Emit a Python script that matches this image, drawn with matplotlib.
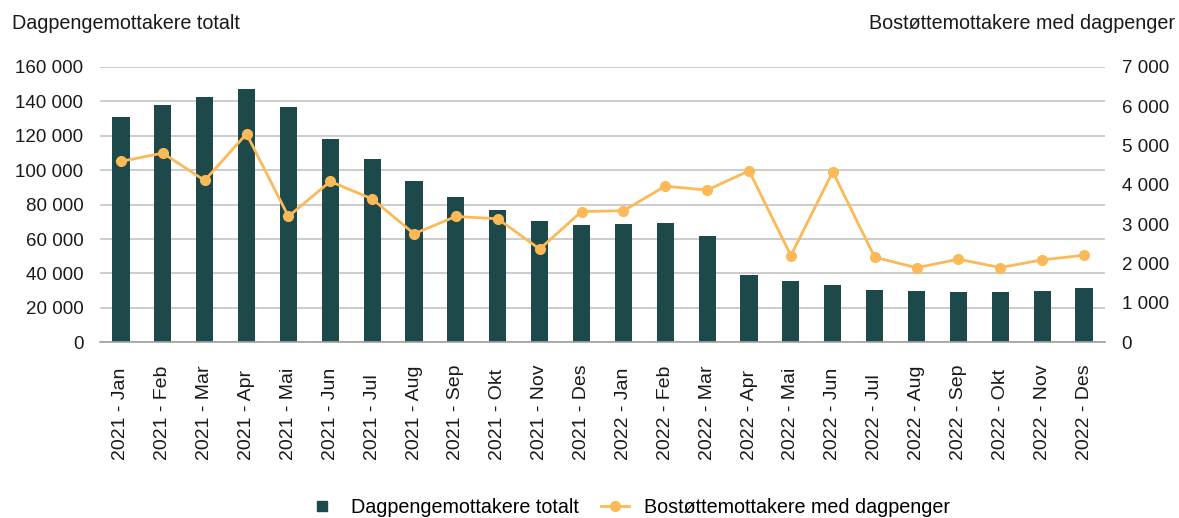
import numpy as np
import matplotlib.pyplot as plt
from matplotlib.lines import Line2D
from matplotlib.ticker import FuncFormatter

plt.rcParams['font.family'] = ['Liberation Sans', 'DejaVu Sans']

months = ['Jan', 'Feb', 'Mar', 'Apr', 'Mai', 'Jun',
          'Jul', 'Aug', 'Sep', 'Okt', 'Nov', 'Des']
labels = [f'{y} - {m}' for y in (2021, 2022) for m in months]

# Dagpengemottakere totalt (left axis)
dagpenger = [130900, 137900, 142500, 147200, 136700, 118000,
             106300, 93500, 84200, 76600, 70200, 67900,
             68500, 69100, 62000, 39300, 35800, 33400,
             30500, 29900, 29300, 29300, 29900, 31700]

# Bostøttemottakere med dagpenger (right axis)
bostotte = [4600, 4810, 4115, 5300, 3200, 4090,
            3645, 2760, 3200, 3140, 2370, 3325,
            3345, 3970, 3870, 4360, 2205, 4335,
            2165, 1895, 2112, 1900, 2095, 2215]

bar_color = '#1e494a'
line_color = '#fbb957'
grid_color = '#c4c4c4'
fs = 13.5
fs_big = 14.2

fig = plt.figure(figsize=(11.79, 5.18), dpi=100)
ax = fig.add_axes([0.0848, 0.3392, 0.8524, 0.5315])
x = np.arange(len(labels))

ax.bar(x, dagpenger, width=0.41, color=bar_color, zorder=2)
ax.set_xlim(-0.5, len(labels) - 0.5)
ax.set_ylim(0, 160000)
ax.set_yticks(np.arange(0, 160001, 20000))
ax.yaxis.set_major_formatter(FuncFormatter(lambda v, p: f'{int(v):,}'.replace(',', ' ')))
ax.grid(axis='y', color=grid_color, linewidth=1.2)
ax.set_axisbelow(True)
for s in ['top', 'right', 'left']:
    ax.spines[s].set_visible(False)
ax.spines['bottom'].set_color('#a0a0a0')
ax.spines['bottom'].set_linewidth(1.2)
ax.tick_params(axis='y', length=0, pad=12, labelsize=fs, colors='#1a1a1a')
ax.set_xticks(x)
ax.set_xticklabels(labels)
ax.tick_params(axis='x', length=0, pad=84.5, labelsize=14, colors='#1a1a1a')
for lbl in ax.get_xticklabels():
    lbl.set_rotation(90)
    lbl.set_rotation_mode('anchor')
    lbl.set_ha('left')
    lbl.set_va('center')

ax2 = ax.twinx()
ax2.plot(x, bostotte, color=line_color, linewidth=2, marker='o',
         markersize=7, zorder=3)
ax2.set_ylim(0, 7000)
ax2.set_yticks(np.arange(0, 7001, 1000))
ax2.yaxis.set_major_formatter(FuncFormatter(lambda v, p: f'{int(v):,}'.replace(',', ' ')))
for s in ax2.spines.values():
    s.set_visible(False)
ax2.tick_params(axis='y', length=0, pad=12, labelsize=fs, colors='#1a1a1a')

fig.text(0.010, 1 - 29 / 518, 'Dagpengemottakere totalt', fontsize=fs_big,
         va='baseline', ha='left', color='#1a1a1a')
fig.text(0.997, 1 - 29 / 518, 'Bostøttemottakere med dagpenger', fontsize=fs_big,
         va='baseline', ha='right', color='#1a1a1a')

handles = [Line2D([], [], linestyle='none', marker='s', markersize=7,
                  color=bar_color),
           Line2D([], [], color=line_color, linewidth=2, marker='o',
                  markersize=7)]
fig.legend(handles, ['Dagpengemottakere totalt', 'Bostøttemottakere med dagpenger'],
           loc='center', bbox_to_anchor=(629 / 1179, 0.021), ncol=2, frameon=False,
           fontsize=fs_big, handlelength=1.4, columnspacing=1.15,
           handletextpad=0.75, borderpad=0, borderaxespad=0)

fig.savefig('out.png', dpi=100)
